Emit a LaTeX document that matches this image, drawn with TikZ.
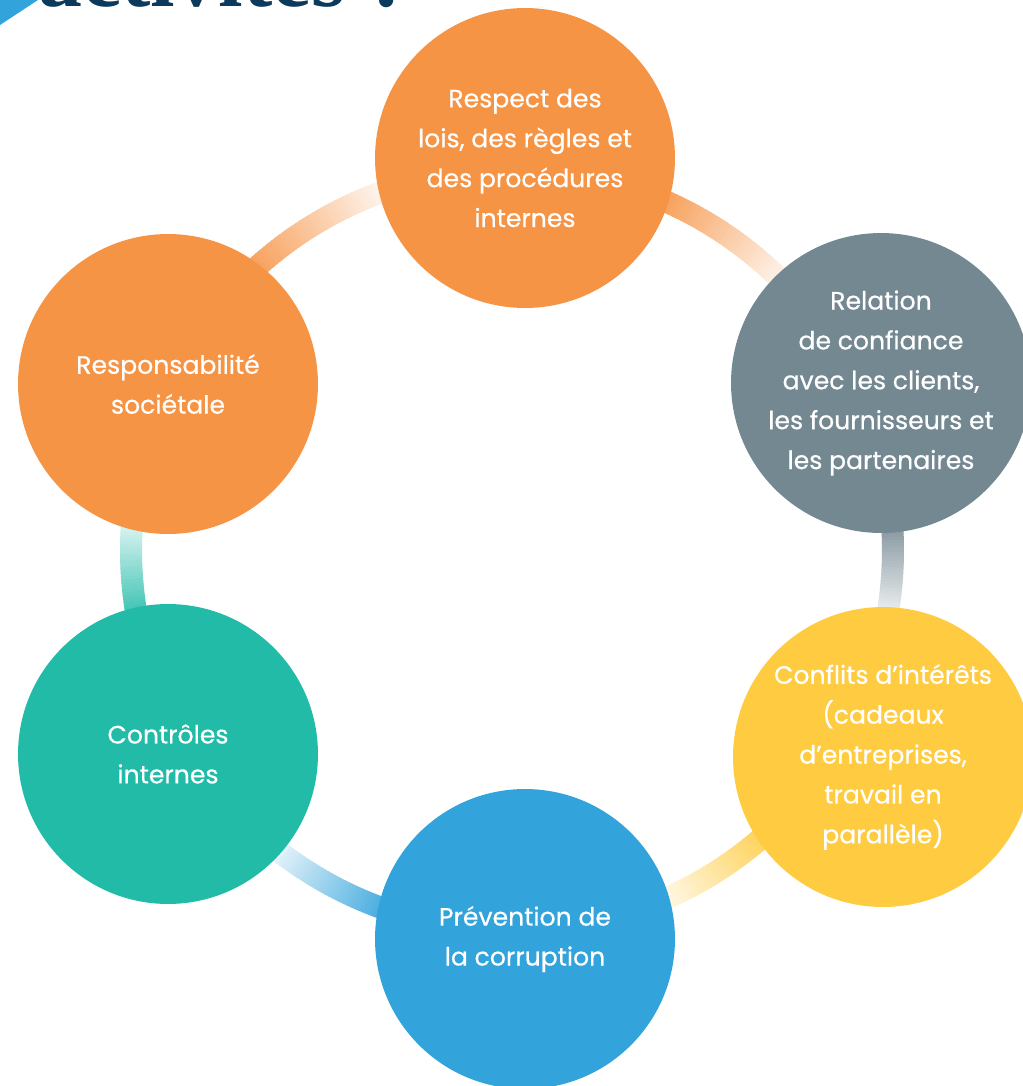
\documentclass[tikz,border=0pt]{standalone}
\usepackage{fontspec}
\setmainfont{Poppins}[FakeBold=0.5]
\newfontfamily\headingfont{Liberation Serif}
\definecolor{ringOrange}{HTML}{F69446}
\definecolor{ringGray}{HTML}{748892}
\definecolor{ringYellow}{HTML}{FECB41}
\definecolor{ringBlue}{HTML}{33A3DB}
\definecolor{ringTeal}{HTML}{21BBA8}
\definecolor{headingNavy}{HTML}{0B3A5C}
\begin{document}
\begin{tikzpicture}[x=0.02cm,y=-0.02cm,
    bubble/.style={circle,minimum size=6cm,inner sep=0pt,text=white,
      align=center,font=\fontsize{14.3}{22.7}\selectfont}]
                \useasboundingbox (0,0) rectangle (1023,1086);
                \clip (0,0) rectangle (1023,1086);

                % Drawing the cut heading and its blue corner
                \fill [ringBlue] (0,0) -- (38,0) -- (0,25) -- cycle;%
                \node [anchor=base west,text=headingNavy,
                  font=\headingfont\bfseries\fontsize{50}{50}\selectfont] (heading) at (32,6) {activités ?};%

                % Drawing the ring pieces (start angle / end angle / colour)
                \coordinate (hub) at (512,550);
                \foreach \s/\e/\c in {-70/-42/ringOrange, -6/12/ringGray, 45/70/ringYellow,
                                      107/131/ringBlue, 168/187/ringTeal, 224/253/ringOrange}{
                  \foreach \i in {0,...,39}{
                    \pgfmathsetmacro\a{\s+(\e-\s)*\i/40}
                    \pgfmathsetmacro\b{\s+(\e-\s)*(\i+1.3)/40}
                    \pgfmathsetmacro\p{100-100*\i/39}
                    \fill [\c!\p!white,shift={(hub)}] (\a:370) -- (\a:392) -- (\b:392) -- (\b:370) -- cycle;%
                  }
                }

                % Drawing circle Respect
                \node [bubble,fill=ringOrange] (respect) at (525,158)
                  {Respect des\\lois, des règles et\\des procédures\\internes};%

                % Drawing circle Relation
                \node [bubble,fill=ringGray] (relation) at (881,383)
                  {Relation\\de confiance\\avec les clients,\\les fournisseurs et\\les partenaires};%

                % Drawing circle Conflits
                \node [bubble,fill=ringYellow] (conflits) at (883,757)
                  {Conflits d’intérêts\\(cadeaux\\d’entreprises,\\travail en\\parallèle)};%

                % Drawing circle Prevention
                \node [bubble,fill=ringBlue] (prevention) at (525,939)
                  {Prévention de\\la corruption};%

                % Drawing circle Controles
                \node [bubble,fill=ringTeal] (controles) at (168,754)
                  {Contrôles\\internes};%

                % Drawing circle Responsabilite
                \node [bubble,fill=ringOrange] (responsabilite) at (168,384)
                  {Responsabilité\\sociétale};%
            \end{tikzpicture}
\end{document}
